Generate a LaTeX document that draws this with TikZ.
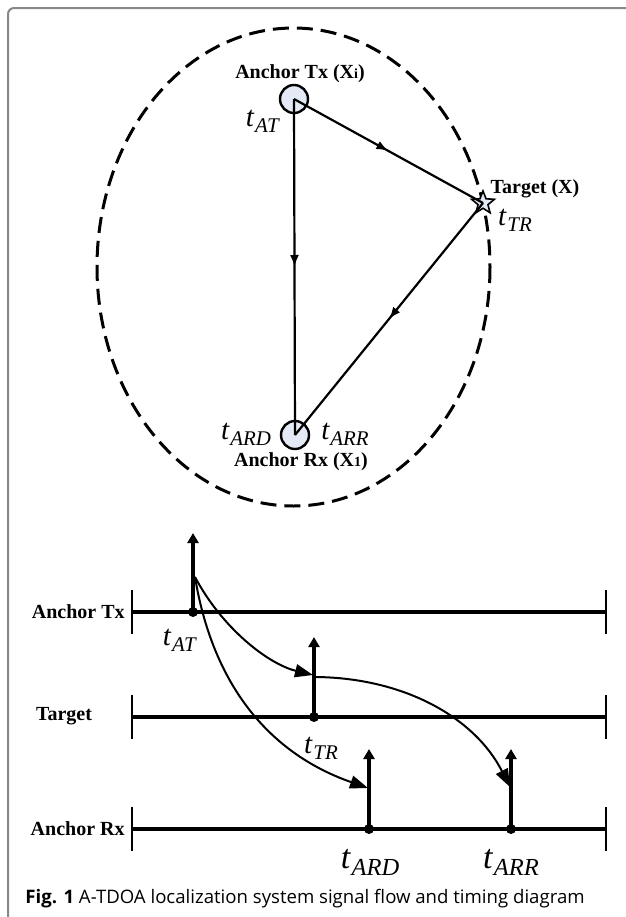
\documentclass[tikz,border=0pt]{standalone}
\usepackage{fontspec}
\setmainfont{Liberation Serif}
\newfontfamily\capfont{Open Sans}
\usetikzlibrary{arrows.meta,shapes.geometric,decorations.markings}

\definecolor{anchorfill}{HTML}{E4EAF5}
\definecolor{framegray}{HTML}{888888}

\newcommand{\tsub}[1]{\textit{t}\kern0.02em\raisebox{-0.45ex}{\scalebox{0.72}{\textit{#1}}}}

\begin{document}
\begin{tikzpicture}[x=0.5pt, y=-0.5pt, every node/.style={inner sep=1pt},
	bold/.style={font=\fontsize{10}{12}\selectfont\bfseries},
	tlab/.style={font=\fontsize{14.5}{16}\selectfont},
	tbig/.style={font=\fontsize{17}{19}\selectfont},
	anchorpt/.style={circle, draw, line width=1.2pt, fill=anchorfill, minimum size=14pt, inner sep=0pt},
	orbit/.style={line width=1.5pt, dash pattern=on 8pt off 4pt},
	sig/.style={line width=1.1pt},
	midarrow/.style={postaction={decorate}, decoration={markings, mark=at position 0.5 with {\arrow{Latex[length=6pt,width=4.5pt]}}}},
	timeline/.style={line width=2pt},
	tickline/.style={line width=0.8pt},
	dot/.style={circle, fill, minimum size=5pt, inner sep=0pt},
	pulse/.style={line width=2pt, -{Triangle[length=5pt,width=5.5pt]}},
	flow/.style={line width=1pt, -{Triangle[length=9pt,width=6.5pt]}}]
	\useasboundingbox (0,0) rectangle (626,917);
	\draw[framegray, line width=1pt, rounded corners=3pt] (8,917) -- (8,8) -- (626,8);

	\draw[orbit] (293.5,267) ellipse [x radius=196.5, y radius=239];
	\node[anchorpt] (tx) at (294,99) {};
	\node[anchorpt] (rx) at (295,435) {};
	\node[star, star points=5, star point ratio=2.3, draw, line width=0.8pt, fill=anchorfill, minimum size=12pt, inner sep=0pt] (tgt) at (483,203) {};
	\draw[sig, midarrow] (tx.center) -- (tgt.center);
	\draw[sig, midarrow] (tx.center) -- (rx.center);
	\draw[sig, midarrow] (tgt.center) -- (rx.center);
	\node[bold] (txlbl) at (300,74) {Anchor Tx (X{\fontsize{7}{8}\selectfont i})};
	\node[tlab] (tat1) at (263,121) {\tsub{AT}};
	\node[bold] (tglbl) at (535,189) {Target (X)};
	\node[tlab] (ttr1) at (515,220) {\tsub{TR}};
	\node[tlab] (tard1) at (246,434) {\tsub{ARD}};
	\node[tlab] (tarr1) at (345,434) {\tsub{ARR}};
	\node[bold] (rxlbl) at (301,462) {Anchor Rx (X{\fontsize{7}{8}\selectfont 1})};

	\foreach \y/\nm in {612/tx, 717/tg, 829/rx} {
		\coordinate (\nm L) at (132,\y);
		\coordinate (\nm R) at (606,\y);
		\draw[timeline] (\nm L) -- (\nm R);
		\draw[tickline] (\nm L) ++(0,-22) -- ++(0,44);
		\draw[tickline] (\nm R) ++(0,-22) -- ++(0,44);
	}
	\node[bold, anchor=east] (rowtx) at (127,612) {Anchor Tx};
	\node[bold] (rowtg) at (64,716) {Target};
	\node[bold, anchor=east] (rowrx) at (127,829) {Anchor Rx};

	\node[dot] (dAT) at (193,612) {};
	\node[dot] (dTR) at (314,717) {};
	\node[dot] (dARD) at (369,829) {};
	\node[dot] (dARR) at (511,829) {};
	\coordinate (aAT) at (193,533);
	\coordinate (aTR) at (314,637);
	\coordinate (aARD) at (369,749);
	\coordinate (aARR) at (511,749);
	\draw[pulse] (dAT.center) -- (aAT);
	\draw[pulse] (dTR.center) -- (aTR);
	\draw[pulse] (dARD.center) -- (aARD);
	\draw[pulse] (dARR.center) -- (aARR);

	\coordinate (sAT) at (195,577);
	\coordinate (sTR) at (316,677);
	\coordinate (eTR) at (313,675);
	\coordinate (eARD) at (368,788);
	\coordinate (eARR) at (510,787);
	\draw[flow] (sAT) .. controls (222,628) and (268,664) .. (eTR);
	\draw[flow] (sAT) .. controls (212,680) and (265,752) .. (eARD);
	\draw[flow] (sTR) .. controls (405,678) and (475,718) .. (eARR);

	\node[tlab] (tat2) at (180,640) {\tsub{AT}};
	\node[tlab] (ttr2) at (321,748) {\tsub{TR}};
	\node[tbig] (tard2) at (370,862) {\tsub{ARD}};
	\node[tbig] (tarr2) at (511,862) {\tsub{ARR}};

	\node[anchor=base west, inner sep=0pt, font=\capfont\fontsize{9.3}{11}\selectfont] (cap) at (25,903) {\textbf{Fig. 1} A-TDOA localization system signal flow and timing diagram};
\end{tikzpicture}
\end{document}
